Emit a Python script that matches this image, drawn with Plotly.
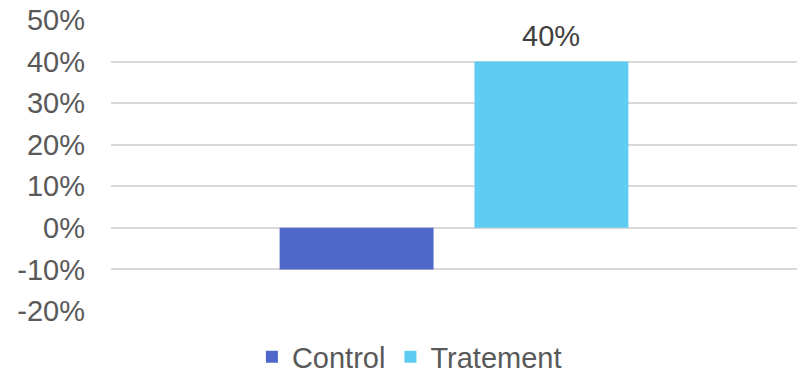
import plotly.graph_objects as go

category = [""]
series_names = ["Control", "Tratement"]
control_values = [-0.10]
treatment_values = [0.40]
colors = ["#4f67c8", "#5fcdf3"]
y_ticks = [-0.2, -0.1, 0.0, 0.1, 0.2, 0.3, 0.4, 0.5]
y_tick_labels = ["-20%", "-10%", "0%", "10%", "20%", "30%", "40%", "50%"]

FONT = "Liberation Sans, Arial, sans-serif"
GRAY = "#595959"
BARGAP = 0.432

fig = go.Figure()
fig.add_trace(go.Bar(x=category, y=control_values, name=series_names[0],
                     marker=dict(color=colors[0], line=dict(width=0))))
fig.add_trace(go.Bar(x=category, y=treatment_values, name=series_names[1],
                     marker=dict(color=colors[1], line=dict(width=0))))

# data label for the second series, centered over its bar in the group
slot = (1 - BARGAP) / 2
for i, v in enumerate(treatment_values):
    fig.add_annotation(x=i + slot / 2, y=v, text=f"{v:.0%}", showarrow=False,
                       xref="x", yref="y", yanchor="bottom", yshift=8,
                       font=dict(family=FONT, size=29, color="#404040"))

fig.update_layout(
    width=808, height=378,
    margin=dict(l=111, r=11, t=20, b=67, autoexpand=False),
    paper_bgcolor="white", plot_bgcolor="white",
    barmode="group", bargap=BARGAP, bargroupgap=0.21,
    font=dict(family=FONT, size=29, color=GRAY),
    showlegend=True,
    legend=dict(orientation="h", x=0.435, xanchor="center",
                y=-0.158, yanchor="middle",
                font=dict(family=FONT, size=29, color=GRAY),
                itemwidth=30, tracegroupgap=0),
    xaxis=dict(showticklabels=False, showgrid=False, zeroline=False, showline=False,
               range=[-0.5, 0.5]),
    yaxis=dict(range=[-0.2, 0.5], tickvals=y_ticks, ticktext=y_tick_labels,
               showgrid=True, gridcolor="#d9d9d9", gridwidth=1.5,
               zeroline=False, showline=False, ticks="",
               ticklabelstandoff=25,
               tickfont=dict(family=FONT, size=29, color=GRAY)),
)

fig.write_html("out.html")
